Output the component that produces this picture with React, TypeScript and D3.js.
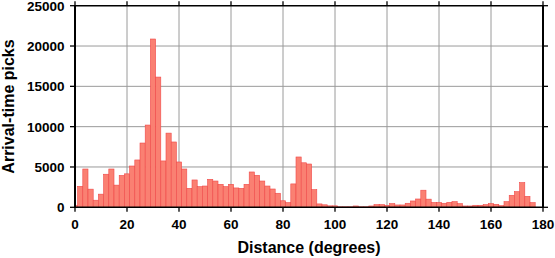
import React from "react";
import * as d3 from "d3";

const binCenters: number[] = d3.range(0, 182, 2);
const counts: number[] = [
  200, 2600, 4750, 2250, 880, 1630, 4100, 4750, 2750, 3950,
  4150, 5120, 5870, 7970, 10200, 20870, 16150, 5750, 9200, 8100,
  5620, 4750, 2350, 3390, 2560, 2640, 3470, 3260, 2850, 2560,
  2850, 2400, 2350, 2850, 4380, 3970, 3260, 2640, 2270, 1740,
  810, 580, 2900, 6240, 5520, 5370, 2190, 420, 310, 180,
  180, 60, 60, 60, 165, 60, 60, 165, 330, 330,
  250, 455, 290, 290, 500, 785, 1030, 2120, 1010, 600,
  600, 500, 620, 700, 455, 165, 165, 250, 250, 330,
  455, 370, 200, 700, 1490, 1940, 3060, 1360, 580, 0,
  0,
];
const xTicks: number[] = [0, 20, 40, 60, 80, 100, 120, 140, 160, 180];
const yTicks: number[] = [0, 5000, 10000, 15000, 20000, 25000];
const xTitle = "Distance (degrees)";
const yTitle = "Arrival-time picks";

const W = 555;
const H = 258;
const L = 75;
const R = 543;
const T = 5.7;
const B = 207.3;

export default function App() {
  const x = d3.scaleLinear().domain([0, 180]).range([L, R]);
  const y = d3.scaleLinear().domain([0, 25000]).range([B, T]);
  const font = "'Liberation Sans', Arial, Helvetica, sans-serif";
  const bw = 1;
  return (
    <svg
      width={W}
      height={H}
      style={{ position: "absolute", left: 0, top: 0, background: "#fff" }}
      fontFamily={font}
    >
      {/* grid */}
      {xTicks.slice(1, -1).map((t) => (
        <line key={"gx" + t} x1={x(t)} x2={x(t)} y1={T} y2={B} stroke="#9a9a9a" strokeWidth={1} />
      ))}
      {yTicks.slice(1, -1).map((t) => (
        <line key={"gy" + t} x1={L} x2={R} y1={y(t)} y2={y(t)} stroke="#9a9a9a" strokeWidth={1} />
      ))}
      {/* bars */}
      {binCenters.map((c, i) => {
        const v = counts[i];
        if (!v) return null;
        const x0 = x(Math.max(0, c - bw));
        const x1 = x(Math.min(180, c + bw));
        return (
          <rect
            key={"b" + c}
            x={x0}
            y={y(v)}
            width={x1 - x0}
            height={B - y(v)}
            fill="#fa8072"
            stroke="#f04848"
            strokeWidth={0.6}
          />
        );
      })}
      {/* frame */}
      <line x1={L} x2={R} y1={T} y2={T} stroke="#000" strokeWidth={1.4} />
      <line x1={L} x2={R} y1={B} y2={B} stroke="#000" strokeWidth={1.4} />
      <line x1={L} x2={L} y1={T - 0.7} y2={B + 0.7} stroke="#000" strokeWidth={2} />
      <line x1={R} x2={R} y1={T - 0.7} y2={B + 0.7} stroke="#000" strokeWidth={2} />
      {/* x ticks */}
      {xTicks.map((t) => (
        <g key={"xt" + t}>
          <line x1={x(t)} x2={x(t)} y1={B} y2={B + 4.5} stroke="#000" strokeWidth={1.3} />
          <line x1={x(t)} x2={x(t)} y1={T} y2={T - 4.5} stroke="#000" strokeWidth={1.3} />
          <text x={x(t)} y={228.5} textAnchor="middle" fontSize={13.5} fontWeight="bold" fill="#000">
            {t}
          </text>
        </g>
      ))}
      {/* y ticks */}
      {yTicks.map((t) => (
        <g key={"yt" + t}>
          <line x1={L} x2={L - 5} y1={y(t)} y2={y(t)} stroke="#000" strokeWidth={1.3} />
          <line x1={R} x2={R + 5} y1={y(t)} y2={y(t)} stroke="#000" strokeWidth={1.3} />
          <text x={64.5} y={y(t)} dy="0.36em" textAnchor="end" fontSize={13.5} fontWeight="bold" fill="#000">
            {t}
          </text>
        </g>
      ))}
      {/* titles */}
      <text x={(L + R) / 2} y={253} textAnchor="middle" fontSize={16} fontWeight="bold" fill="#000">
        {xTitle}
      </text>
      <text
        transform={`translate(13.5,${(T + B) / 2}) rotate(-90)`}
        textAnchor="middle"
        fontSize={16}
        fontWeight="bold"
        fill="#000"
      >
        {yTitle}
      </text>
    </svg>
  );
}
